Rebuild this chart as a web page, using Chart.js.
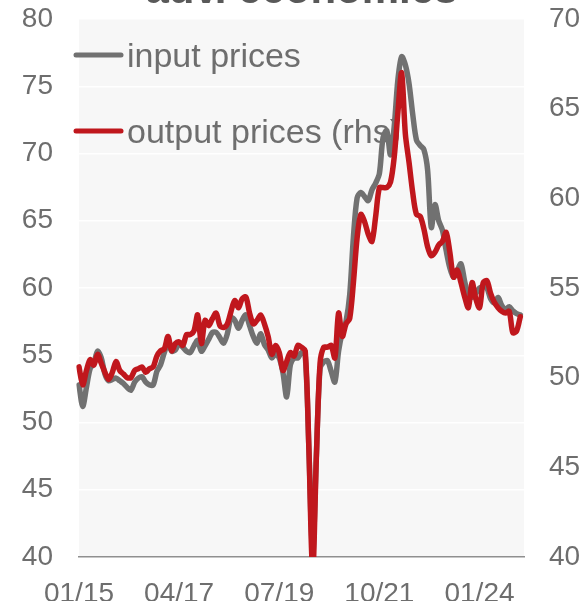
<!DOCTYPE html>
<html>
<head>
<meta charset="utf-8">
<script src="https://cdn.jsdelivr.net/npm/chart.js@4"></script>
<style>
  html, body { margin: 0; padding: 0; background: #fff; }
  canvas { display: block; }
</style>
</head>
<body>
<canvas id="pmiChart" width="586" height="601"></canvas>
<script>
'use strict'

// monthly categories 01/15 .. 01/25
const months = [];
for (let y = 15; y <= 25; y++) {
  for (let m = 1; m <= 12; m++) {
    if (y === 25 && m > 1) break;
    months.push(String(m).padStart(2, '0') + '/' + y);
  }
}
const tickLabels = ['01/15', '04/17', '07/19', '10/21', '01/24'];

const titleText = 'adv. economies';
const seriesNames = ['input prices', 'output prices (rhs)'];

const inputPrices = [
  52.8, 51.2, 52.6, 54.0, 54.4, 55.3, 54.8, 53.6, 53.1, 53.2, 53.3, 53.1,
  52.9, 52.6, 52.4, 53.0, 53.3, 53.4, 53.0, 52.8, 52.8, 53.8, 54.3, 55.2,
  55.9, 55.3, 55.4, 55.9, 55.6, 55.3, 55.2, 55.7, 56.1, 55.3, 55.7, 56.2,
  56.7, 56.7, 56.3, 55.9, 56.6, 57.8, 57.6, 57.0, 57.6, 58.0, 57.2, 56.4,
  55.9, 56.6, 55.8, 55.4, 54.8, 55.1, 54.8, 53.7, 51.9, 54.3, 54.8, 54.8,
  55.2, 55.0, 48.0, 40.0, 47.5, 54.0, 54.5, 54.6, 53.8, 53.0, 55.3, 56.7,
  57.5, 59.5, 63.8, 66.7, 67.1, 66.8, 66.5, 67.3, 67.8, 68.5, 71.2, 71.7,
  69.9, 72.0, 75.5, 77.2, 76.6, 75.2, 72.9, 71.0, 70.6, 70.3, 68.8, 64.5,
  66.2, 65.0, 64.3, 62.8, 61.5, 60.8, 61.3, 61.8, 60.5, 59.5, 59.3, 59.6,
  60.0, 60.1, 60.0, 59.2, 58.9, 59.3, 58.7, 58.4, 58.6, 58.3, 58.1, 58.0
];

const outputPrices = [
  50.6, 49.6, 50.4, 51.0, 50.7, 51.3, 50.8, 50.3, 49.9, 50.3, 50.9, 50.4,
  50.2, 50.0, 50.0, 50.4, 50.5, 50.6, 50.3, 50.5, 50.6, 51.2, 51.5, 51.6,
  52.3, 51.5, 51.9, 52.0, 51.8, 52.4, 52.4, 52.6, 53.5, 51.9, 53.2, 52.9,
  53.3, 53.6, 52.9, 52.8, 53.0, 53.7, 54.3, 53.9, 54.4, 54.5, 53.6, 53.0,
  53.2, 53.5, 53.0, 52.3, 51.3, 51.8, 51.4, 50.4, 50.9, 51.4, 51.2, 51.8,
  51.7, 51.5, 46.0, 39.0, 45.5, 50.8, 51.7, 51.7, 51.8, 51.1, 53.6, 52.3,
  53.0, 53.3, 55.3, 57.8, 59.1, 58.7, 58.0, 57.6, 59.0, 60.6, 60.6, 60.6,
  60.9, 62.3, 64.8, 67.0, 63.6, 62.0, 60.3, 59.1, 59.0, 58.3, 57.3, 56.8,
  57.0, 57.4, 57.6, 58.1, 57.0, 55.6, 56.0, 55.3, 54.5, 53.9, 55.3, 54.4,
  53.9, 55.3, 55.4, 54.7, 54.2, 53.9, 53.7, 53.6, 53.7, 52.5, 52.6, 53.4
];

const GREY = '#717171';
const RED = '#c0171d';
const TXT = '#6e6e6e';
const FONT = "'Liberation Sans', Arial, sans-serif";

const bgPlugin = {
  id: 'bg',
  beforeDraw(chart) {
    const { ctx, chartArea: a } = chart;
    ctx.save();
    ctx.fillStyle = '#ffffff';
    ctx.fillRect(0, 0, chart.width, chart.height);
    ctx.fillStyle = '#f7f7f7';
    ctx.fillRect(a.left, a.top, a.right - a.left, a.bottom - a.top);
    // title, mostly cut off at the top
    ctx.fillStyle = '#595959';
    ctx.font = 'bold 42px ' + FONT;
    ctx.textAlign = 'center';
    ctx.textBaseline = 'alphabetic';
    ctx.fillText(titleText, (a.left + a.right) / 2, 2.5);
    ctx.restore();
  }
};

const legendPlugin = {
  id: 'legendLines',
  beforeDatasetsDraw(chart) {
    const ctx = chart.ctx;
    const rows = [55, 131];
    ctx.save();
    chart.data.datasets.forEach(function(ds, i) {
      const y = rows[i];
      ctx.strokeStyle = ds.borderColor;
      ctx.lineWidth = 5;
      ctx.lineCap = 'round';
      ctx.beginPath();
      ctx.moveTo(76, y);
      ctx.lineTo(121, y);
      ctx.stroke();
      ctx.fillStyle = TXT;
      ctx.font = '34px ' + FONT;
      ctx.textAlign = 'left';
      ctx.textBaseline = 'alphabetic';
      ctx.fillText(ds.label, 127, y + 12);
    });
    ctx.restore();
  }
};

function noPad(s) {
  s.paddingTop = 0;
  s.paddingBottom = 0;
  s.paddingLeft = 0;
  s.paddingRight = 0;
}

const ctx = document.getElementById('pmiChart').getContext('2d');
const pmiChart = new Chart(ctx, {
  type: 'line',
  data: {
    labels: months,
    datasets: [
      {
        label: seriesNames[0],
        data: inputPrices,
        yAxisID: 'y',
        borderColor: GREY,
        borderWidth: 5.5,
        pointRadius: 0,
        tension: 0.3,
        borderJoinStyle: 'round',
        borderCapStyle: 'round',
        order: 2
      },
      {
        label: seriesNames[1],
        data: outputPrices,
        yAxisID: 'y2',
        borderColor: RED,
        borderWidth: 5.5,
        pointRadius: 0,
        tension: 0.3,
        borderJoinStyle: 'round',
        borderCapStyle: 'round',
        order: 1
      }
    ]
  },
  options: {
    responsive: false,
    animation: false,
    devicePixelRatio: 1,
    layout: { padding: { top: 19, left: 0, right: 0, bottom: 0 } },
    plugins: {
      legend: { display: false },
      tooltip: { enabled: false }
    },
    scales: {
      x: {
        type: 'category',
        offset: false,
        grid: { display: false, drawTicks: false },
        border: { display: true, color: '#8f8f8f', width: 1.5 },
        ticks: {
          autoSkip: false,
          maxRotation: 0,
          minRotation: 0,
          padding: 20,
          color: TXT,
          font: { family: FONT, size: 28 },
          callback: function(val, idx) {
            const l = months[idx];
            return tickLabels.includes(l) ? l : '';
          }
        },
        afterFit: function(s) { s.height = 44; noPad(s); }
      },
      y: {
        position: 'left',
        min: 40,
        max: 80,
        grid: {
          drawTicks: false,
          lineWidth: 1.5,
          color: function(c) { return c.tick && c.tick.value === 40 ? 'rgba(0,0,0,0)' : '#ffffff'; }
        },
        border: { display: false },
        ticks: {
          stepSize: 5,
          padding: 26,
          color: TXT,
          font: { family: FONT, size: 28 }
        },
        afterFit: function(s) { s.width = 79; noPad(s); }
      },
      y2: {
        position: 'right',
        min: 40,
        max: 70,
        grid: { display: false, drawTicks: false },
        border: { display: false },
        ticks: {
          stepSize: 5,
          padding: 25,
          color: TXT,
          font: { family: FONT, size: 28 }
        },
        afterFit: function(s) { s.width = 62; noPad(s); }
      }
    }
  },
  plugins: [bgPlugin, legendPlugin]
});
</script>
</body>
</html>
